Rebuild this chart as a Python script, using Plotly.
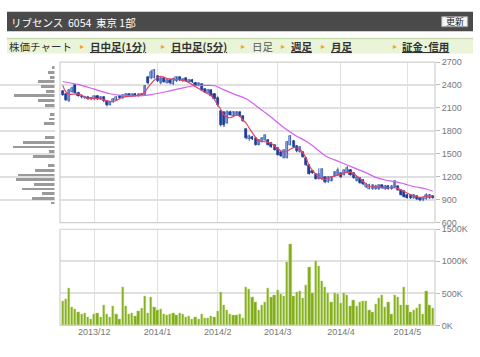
import plotly.graph_objects as go

W, H = 480, 357

# ---------------- data ----------------
trading_days = {
    "2013/11": [18, 19, 20, 21, 22, 25, 26, 27, 28, 29],
    "2013/12": [2, 3, 4, 5, 6, 9, 10, 11, 12, 13, 16, 17, 18, 19, 20, 24, 25, 26, 27, 30],
    "2014/1": [6, 7, 8, 9, 10, 14, 15, 16, 17, 20, 21, 22, 23, 24, 27, 28, 29, 30, 31],
    "2014/2": [3, 4, 5, 6, 7, 10, 12, 13, 14, 17, 18, 19, 20, 21, 24, 25, 26, 27, 28],
    "2014/3": [3, 4, 5, 6, 7, 10, 11, 12, 13, 14, 17, 18, 19, 20, 24, 25, 26, 27, 28, 31],
    "2014/4": [1, 2, 3, 4, 7, 8, 9, 10, 11, 14, 15, 16, 17, 18, 21, 22, 23, 24, 25, 28, 30],
    "2014/5": [1, 2, 7, 8, 9, 12, 13, 14, 15],
}

opens = [2320, 2280, 2190, 2310, 2400, 2300, 2260, 2225, 2240, 2230,
         2210, 2250, 2215, 2245, 2190, 2140, 2180, 2205, 2250, 2225,
         2250, 2285, 2255, 2285, 2255, 2285, 2270, 2500, 2485, 2495,
         2515, 2420, 2490, 2430, 2470, 2410, 2450, 2500, 2450, 2485,
         2440, 2470, 2430, 2395, 2410, 2350, 2300, 2330, 2280, 2230,
         2060, 2040, 1900, 2050, 2000, 2010, 2040, 1990, 1820, 1690,
         1720, 1700, 1620, 1660, 1680, 1680, 1640, 1610, 1575, 1520,
         1450, 1450, 1620, 1670, 1600, 1525, 1520, 1445, 1350, 1280,
         1235, 1175, 1165, 1195, 1130, 1150, 1205, 1220, 1245, 1225,
         1258, 1285, 1245, 1150, 1180, 1160, 1060, 1040, 1040, 1040,
         1035, 1090, 1040, 1075, 1040, 1060, 1075, 1030, 1010, 965,
         955, 920, 945, 925, 890, 910, 920, 950]
closes = [2270, 2200, 2330, 2360, 2300, 2260, 2240, 2245, 2215, 2215,
          2250, 2215, 2240, 2185, 2140, 2180, 2215, 2245, 2225, 2270,
          2285, 2255, 2280, 2260, 2280, 2265, 2390, 2420, 2570, 2595,
          2450, 2490, 2440, 2470, 2420, 2480, 2500, 2460, 2480, 2450,
          2470, 2440, 2400, 2420, 2340, 2310, 2340, 2260, 2210, 2140,
          1870, 1880, 2050, 2010, 2040, 2050, 1990, 1930, 1700, 1730,
          1690, 1620, 1680, 1700, 1740, 1620, 1590, 1555, 1490, 1470,
          1550, 1655, 1730, 1590, 1530, 1590, 1460, 1350, 1240, 1250,
          1175, 1240, 1300, 1125, 1200, 1200, 1265, 1290, 1195, 1285,
          1320, 1225, 1185, 1200, 1120, 1100, 1105, 1090, 1090, 1080,
          1085, 1050, 1080, 1045, 1080, 1140, 1025, 965, 940, 925,
          920, 965, 905, 890, 920, 960, 965, 925]
highs = [2330, 2290, 2350, 2380, 2410, 2310, 2275, 2260, 2250, 2245,
         2260, 2265, 2255, 2255, 2200, 2190, 2230, 2255, 2265, 2280,
         2295, 2295, 2290, 2295, 2290, 2290, 2400, 2510, 2600, 2610,
         2525, 2510, 2500, 2480, 2480, 2495, 2510, 2510, 2490, 2495,
         2480, 2480, 2440, 2430, 2420, 2360, 2350, 2340, 2290, 2250,
         2070, 2050, 2070, 2065, 2055, 2060, 2050, 2000, 1830, 1750,
         1735, 1710, 1695, 1715, 1750, 1690, 1650, 1620, 1585, 1530,
         1560, 1670, 1745, 1680, 1610, 1600, 1530, 1455, 1360, 1290,
         1245, 1310, 1310, 1205, 1210, 1210, 1275, 1320, 1255, 1295,
         1340, 1300, 1255, 1210, 1190, 1170, 1120, 1110, 1100, 1095,
         1100, 1100, 1095, 1085, 1090, 1155, 1080, 1040, 1020, 975,
         965, 975, 955, 935, 930, 985, 975, 960]
lows = [2260, 2190, 2180, 2300, 2290, 2250, 2225, 2215, 2205, 2205,
        2200, 2205, 2205, 2175, 2120, 2130, 2170, 2195, 2215, 2215,
        2240, 2245, 2245, 2250, 2245, 2255, 2265, 2410, 2475, 2485,
        2440, 2410, 2430, 2420, 2410, 2400, 2440, 2450, 2440, 2440,
        2430, 2425, 2390, 2385, 2330, 2300, 2290, 2250, 2200, 2120,
        1860, 1850, 1890, 2000, 1990, 2000, 1980, 1920, 1690, 1670,
        1680, 1610, 1610, 1650, 1670, 1610, 1580, 1545, 1480, 1460,
        1440, 1440, 1610, 1580, 1520, 1515, 1450, 1340, 1230, 1240,
        1165, 1165, 1155, 1115, 1120, 1140, 1195, 1210, 1185, 1215,
        1250, 1215, 1175, 1140, 1110, 1090, 1050, 1035, 1030, 1030,
        1025, 1040, 1030, 1035, 1030, 1050, 1015, 955, 930, 915,
        910, 910, 895, 880, 880, 900, 910, 915]

volume_k = [379, 404, 586, 283, 258, 207, 182, 187, 126, 101,
            172, 187, 136, 323, 172, 136, 293, 177, 101, 596,
            293, 177, 197, 141, 217, 273, 449, 187, 439, 283,
            232, 247, 177, 162, 182, 197, 152, 187, 182, 126,
            146, 96, 136, 96, 172, 116, 116, 146, 126, 217,
            525, 318, 232, 172, 152, 162, 182, 106, 598, 566,
            434, 359, 242, 308, 369, 576, 434, 465, 556, 480,
            449, 980, 1273, 449, 525, 535, 419, 626, 909, 495,
            995, 929, 692, 591, 510, 359, 495, 480, 348, 495,
            470, 298, 399, 303, 359, 374, 384, 242, 202, 333,
            419, 465, 283, 369, 172, 465, 434, 313, 591, 308,
            212, 242, 273, 328, 182, 535, 318, 263]

# moving averages read at sample bars (1-based bar number)
ma_short_bar = [1, 2, 3, 6, 7, 9, 11, 13, 15, 17, 18, 20, 24, 26, 27, 28, 29, 30, 32, 34, 37, 40,
                42, 44, 46, 48, 49, 50, 51, 52, 53, 54, 56, 57, 58, 59, 60, 62, 63, 65, 67, 68,
                70, 71, 73, 74, 76, 78, 79, 81, 82, 84, 86, 88, 90, 92, 93, 95, 97, 98, 100, 103,
                106, 107, 109, 111, 113, 114, 116, 118]
ma_short_val = [2395, 2311, 2281, 2281, 2265, 2226, 2226, 2218, 2192, 2183, 2200, 2240, 2260, 2275,
                2310, 2370, 2421, 2465, 2514, 2485, 2472, 2450, 2404, 2353, 2302, 2260, 2210, 2140,
                2080, 2010, 1980, 1972, 2006, 1990, 1942, 1900, 1836, 1715, 1670, 1658, 1635, 1600,
                1540, 1522, 1561, 1582, 1561, 1440, 1340, 1235, 1195, 1167, 1200, 1222, 1250, 1260,
                1240, 1179, 1100, 1073, 1065, 1056, 1056, 1048, 1005, 965, 938, 930, 946, 946]
ma_long_bar = [1, 6, 11, 16, 21, 26, 29, 34, 38, 42, 46, 49, 52, 56, 59, 62, 65, 68, 71, 75, 78,
               81, 84, 87, 90, 93, 97, 100, 103, 106, 109, 112, 116, 118]
ma_long_val = [2446, 2404, 2345, 2285, 2260, 2260, 2275, 2315, 2353, 2387, 2395, 2390, 2336, 2268,
               2220, 2133, 2039, 1942, 1840, 1730, 1665, 1573, 1476, 1421, 1370, 1319, 1251, 1192,
               1158, 1137, 1107, 1073, 1040, 1012]

# volume by price (left histogram), relative amounts
vbp_price = [2625, 2564, 2503, 2442, 2381, 2320, 2259, 2198, 2137, 2015, 1954, 1893,
             1710, 1649, 1588, 1527, 1466, 1344, 1283, 1222, 1161, 1100, 1039, 978, 917, 856]
vbp_amount = [2.6, 6.6, 4.3, 16.6, 13.6, 9.0, 40.6, 16.6, 10.0, 4.3, 5.6, 10.6,
              10.0, 31.6, 41.6, 5.6, 21.6, 6.6, 19.3, 36.6, 38.6, 20.3, 32.3, 12.6, 22.6, 3.6]

price_ticks = [600, 900, 1200, 1500, 1800, 2100, 2400, 2700]
vol_ticks = [0, 500, 1000, 1500]

# ---------------- derived ----------------
dates = [(m, d) for m, days in trading_days.items() for d in days]
idx = list(range(len(dates)))
month_tickvals, month_ticktext = [], []
for i, (m, d) in enumerate(dates):
    if i > 0 and dates[i - 1][0] != m:
        month_tickvals.append(i)
        month_ticktext.append(m)

def fx(px):
    return px / W

def fy(py):
    return 1 - py / H

UP_FILL, UP_LINE = "#a9bfe8", "#3d60b8"
DN_FILL, DN_LINE = "#1d3c96", "#1d3c96"

fig = go.Figure()

# wicks
for up in (True, False):
    xs, ys = [], []
    for i in idx:
        if (closes[i] >= opens[i]) == up:
            xs += [i, i, None]
            ys += [lows[i], highs[i], None]
    fig.add_trace(go.Scatter(x=xs, y=ys, mode="lines", xaxis="x", yaxis="y",
                             line=dict(color=UP_LINE if up else DN_LINE, width=1),
                             hoverinfo="skip", showlegend=False))

# bodies
for up in (True, False):
    bx, bbase, bh = [], [], []
    for i in idx:
        if (closes[i] >= opens[i]) == up:
            bx.append(i)
            bbase.append(min(opens[i], closes[i]))
            bh.append(max(abs(closes[i] - opens[i]), 8))
    fig.add_trace(go.Bar(x=bx, y=bh, base=bbase, xaxis="x", yaxis="y", width=0.66,
                         marker=dict(color=UP_FILL if up else DN_FILL,
                                     line=dict(color=UP_LINE if up else DN_LINE, width=0.7)),
                         showlegend=False, hoverinfo="skip"))

# moving averages
fig.add_trace(go.Scatter(x=[b - 1 for b in ma_long_bar], y=ma_long_val, mode="lines",
                         xaxis="x", yaxis="y", line=dict(color="#d45ff0", width=1.2, shape="spline"),
                         showlegend=False, hoverinfo="skip"))
fig.add_trace(go.Scatter(x=[b - 1 for b in ma_short_bar], y=ma_short_val, mode="lines",
                         xaxis="x", yaxis="y", line=dict(color="#ea4160", width=1.2, shape="spline"),
                         showlegend=False, hoverinfo="skip"))

# volume
fig.add_trace(go.Bar(x=idx, y=[v * 1000 for v in volume_k], xaxis="x2", yaxis="y2", width=0.72,
                     marker=dict(color="#80ab1a", line=dict(color="#bcd97a", width=0.5)),
                     showlegend=False, hoverinfo="skip"))

# volume by price
fig.add_trace(go.Bar(y=vbp_price, x=vbp_amount, orientation="h", xaxis="x3", yaxis="y", width=38,
                     marker=dict(color="#9a9a9a", line=dict(width=0)),
                     showlegend=False, hoverinfo="skip"))

tick_font = dict(family="Liberation Sans, Arial, sans-serif", size=9, color="#777777")
grid_c = "#e0e0e0"
xr = [-0.85, len(idx) - 1 + 0.73]

fig.update_layout(
    width=W, height=H, autosize=False,
    margin=dict(l=0, r=0, t=0, b=0),
    paper_bgcolor="white", plot_bgcolor="white",
    barmode="overlay", bargap=0,
    xaxis=dict(domain=[fx(60), fx(435)], anchor="y", range=xr, tickvals=month_tickvals,
               showticklabels=False, showgrid=True, gridcolor=grid_c, gridwidth=1.3,
               zeroline=False, ticks="", showline=False),
    yaxis=dict(domain=[fy(223.9), fy(58.7)], anchor="x", side="right", range=[600, 2700],
               tickvals=price_ticks, ticktext=[str(t) for t in price_ticks],
               showgrid=True, gridcolor=grid_c, gridwidth=1.6, zeroline=False,
               ticks="outside", ticklen=4, tickcolor="#bbbbbb", tickfont=tick_font),
    xaxis2=dict(domain=[fx(60), fx(435)], anchor="y2", range=xr, matches="x",
                tickvals=month_tickvals, ticktext=month_ticktext, showgrid=True,
                gridcolor=grid_c, gridwidth=1.3, zeroline=False, ticks="", tickfont=tick_font),
    yaxis2=dict(domain=[fy(329.7), fy(230.7)], anchor="x2", side="right", range=[0, 1500000],
                tickvals=[t * 1000 for t in vol_ticks], ticktext=[f"{t}K" for t in vol_ticks],
                showgrid=True, gridcolor=grid_c, gridwidth=1.6, zeroline=False,
                ticks="outside", ticklen=4, tickcolor="#bbbbbb", tickfont=tick_font),
    xaxis3=dict(domain=[0, fx(54.5)], anchor="y", range=[54.5, 0], showgrid=False,
                showticklabels=False, zeroline=False, ticks="", showline=False),
)

shapes = []
# panel frames
for ya in ("y", "y2"):
    xa = "x" if ya == "y" else "x2"
    shapes.append(dict(type="rect", xref=f"{xa} domain", yref=f"{ya} domain", x0=0, x1=1, y0=0, y1=1,
                       line=dict(color="#cfcfcf", width=1.2), fillcolor="rgba(0,0,0,0)", layer="above"))
# header bar
shapes.append(dict(type="rect", xref="paper", yref="paper", x0=fx(7), x1=fx(473), y0=fy(27), y1=fy(7),
                   fillcolor="#4a4a4a", line=dict(width=0), layer="below"))
# update button
shapes.append(dict(type="rect", xref="paper", yref="paper", x0=fx(441.7), x1=fx(467.7), y0=fy(22.3), y1=fy(12),
                   fillcolor="#f5f5f5", line=dict(color="#9a9a9a", width=1)))
# tab bar
shapes.append(dict(type="rect", xref="paper", yref="paper", x0=fx(7), x1=fx(473), y0=fy(50), y1=fy(34),
                   fillcolor="#eaf4d8", line=dict(width=0), layer="below"))
shapes.append(dict(type="line", xref="paper", yref="paper", x0=fx(7), x1=fx(473), y0=fy(34.5), y1=fy(34.5),
                   line=dict(color="#c9dcae", width=1.5)))
fig.update_layout(shapes=shapes)

jp = "Noto Sans CJK JP, sans-serif"
ann = []
ann.append(dict(text="リブセンス  6054  東京 1部", x=fx(9), y=fy(17.5), xref="paper", yref="paper",
                xanchor="left", yanchor="middle", showarrow=False,
                font=dict(family=jp, size=10.5, color="#ffffff")))
ann.append(dict(text="更新", x=fx(454.7), y=fy(17.2), xref="paper", yref="paper",
                xanchor="center", yanchor="middle", showarrow=False,
                font=dict(family=jp, size=9, color="#222222")))
ann.append(dict(text="株価チャート", x=fx(6.5), y=fy(42.5), xref="paper", yref="paper",
                xanchor="left", yanchor="middle", showarrow=False,
                font=dict(family=jp, size=10.5, color="#333333")))
tabs = [(81.7, 88, "日中足(1分)", True), (163, 169, "日中足(5分)", True), (243, 250, "日足", False),
        (283, 289, "週足", True), (323, 329, "月足", True), (395, 400, "証金･信用", True)]
for tx, lx, label, link in tabs:
    ann.append(dict(text="▸", x=fx(tx), y=fy(42.5), xref="paper", yref="paper",
                    xanchor="center", yanchor="middle", showarrow=False,
                    font=dict(family="DejaVu Sans", size=8, color="#f0a030")))
    txt = f"<b><u>{label}</u></b>" if link else label
    ann.append(dict(text=txt, x=fx(lx), y=fy(42.5), xref="paper", yref="paper",
                    xanchor="left", yanchor="middle", showarrow=False,
                    font=dict(family=jp, size=10.5, color="#333333" if link else "#555555")))
fig.update_layout(annotations=ann)

fig.write_html("out.html", config={"displayModeBar": False},
               post_script="document.body.style.margin='0';document.body.style.overflow='hidden';")
